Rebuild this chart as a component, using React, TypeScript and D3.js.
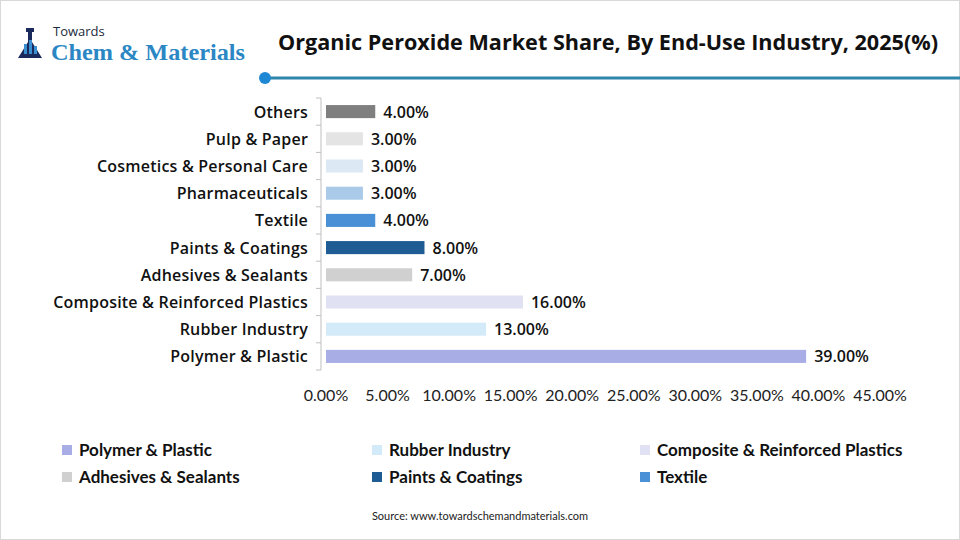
import React from "react";
import * as d3 from "d3";

const categories = [
  "Others",
  "Pulp & Paper",
  "Cosmetics & Personal Care",
  "Pharmaceuticals",
  "Textile",
  "Paints & Coatings",
  "Adhesives & Sealants",
  "Composite & Reinforced Plastics",
  "Rubber Industry",
  "Polymer & Plastic",
];
const values = [4, 3, 3, 3, 4, 8, 7, 16, 13, 39];
const colors = [
  "#7f7f7f",
  "#e4e4e4",
  "#dde8f5",
  "#a9cbe9",
  "#4a90d6",
  "#1f5c94",
  "#d0d0d0",
  "#e0e2f4",
  "#d3ebf8",
  "#a9ade6",
];
const xTicks = [0, 5, 10, 15, 20, 25, 30, 35, 40, 45];
const legendItems = [
  "Polymer & Plastic",
  "Rubber Industry",
  "Composite & Reinforced Plastics",
  "Adhesives & Sealants",
  "Paints & Coatings",
  "Textile",
];

const W = 960;
const H = 540;
const OPEN = "'Open Sans', sans-serif";
const LATO = "Lato, sans-serif";

export default function App() {
  const x = d3.scaleLinear().domain([0, 45]).range([326, 880]);
  const y = d3.scaleBand().domain(categories).range([98, 370]).paddingInner(0.52).paddingOuter(0.26);
  const yOuter = d3.scaleBand().domain(categories).range([98, 370]);
  const colorOf = (c: string) => colors[categories.indexOf(c)];

  const legendX = [62, 372, 640];
  const legendY = [450, 477];

  return (
    <svg width={W} height={H} style={{ position: "absolute", left: 0, top: 0 }} fontFamily={OPEN}>
      <rect x={0.5} y={0.5} width={W - 1} height={H - 1} fill="#fff" stroke="#d9d9d9" />
      {/* Logo */}
      <g>
        <rect x={26} y={28} width={8} height={4} fill="#1b2a5c" />
        <path d="M28 32 L32 32 L32 42 L42 58 L18 58 L28 42 Z" fill="#1b2a5c" />
        <rect x={24} y={44} width={3} height={10} fill="#3a8fd0" />
        <rect x={29} y={40} width={3} height={14} fill="#3a8fd0" />
        <rect x={34} y={46} width={3} height={8} fill="#3a8fd0" />
        <text x={53} y={36} fontSize={13} fill="#1b2a3c" fontFamily={OPEN}>Towards</text>
        <text x={51} y={60} fontSize={24} fill="#2b87c4" fontFamily="'Liberation Serif', serif" fontWeight={700}
          textLength={194} lengthAdjust="spacingAndGlyphs">
          Chem &amp; Materials
        </text>
      </g>
      {/* Title */}
      <text x={278} y={50} fontSize={21} fontWeight={700} fill="#111" fontFamily={OPEN}
        textLength={660} lengthAdjust="spacingAndGlyphs">
        Organic Peroxide Market Share, By End-Use Industry, 2025(%)
      </text>
      <line x1={265} x2={960} y1={78} y2={78} stroke="#2e86ab" strokeWidth={3} />
      <circle cx={265} cy={78} r={6} fill="#1f88d4" />

      {/* Axis line and ticks */}
      <line x1={321} x2={321} y1={98} y2={370} stroke="#bfbfbf" />
      {categories.map((c) => (
        <line key={"t" + c} x1={316} x2={321} y1={yOuter(c)!} y2={yOuter(c)!} stroke="#bfbfbf" />
      ))}
      <line x1={316} x2={321} y1={370} y2={370} stroke="#bfbfbf" />

      {/* Bars */}
      {categories.map((c, i) => (
        <g key={c}>
          <rect x={x(0)} y={y(c)!} width={x(values[i]) - x(0)} height={y.bandwidth()} fill={colorOf(c)} />
          <text x={x(values[i]) + 8} y={y(c)! + y.bandwidth() / 2 + 6} fontSize={16} fontWeight={600} fill="#111">
            {values[i].toFixed(2)}%
          </text>
          <text x={308} y={y(c)! + y.bandwidth() / 2 + 6} fontSize={16} fontWeight={600} fill="#111" textAnchor="end"
            letterSpacing={0.2}>
            {c}
          </text>
        </g>
      ))}

      {/* X tick labels */}
      {xTicks.map((t) => (
        <text key={t} x={x(t)} y={401} textAnchor="middle" fontSize={16} fill="#222" fontFamily={LATO}>
          {t.toFixed(2)}%
        </text>
      ))}

      {/* Legend */}
      {legendItems.map((l, i) => {
        const col = i % 3;
        const row = Math.floor(i / 3);
        return (
          <g key={l}>
            <rect x={legendX[col]} y={legendY[row] - 5} width={10} height={10} fill={colorOf(l)} />
            <text x={legendX[col] + 17} y={legendY[row] + 6} fontSize={17} fontWeight={700} fill="#111" fontFamily={LATO}>
              {l}
            </text>
          </g>
        );
      })}

      <text x={480} y={520} textAnchor="middle" fontSize={11} fill="#222" fontFamily={LATO}>
        Source: www.towardschemandmaterials.com
      </text>
    </svg>
  );
}
